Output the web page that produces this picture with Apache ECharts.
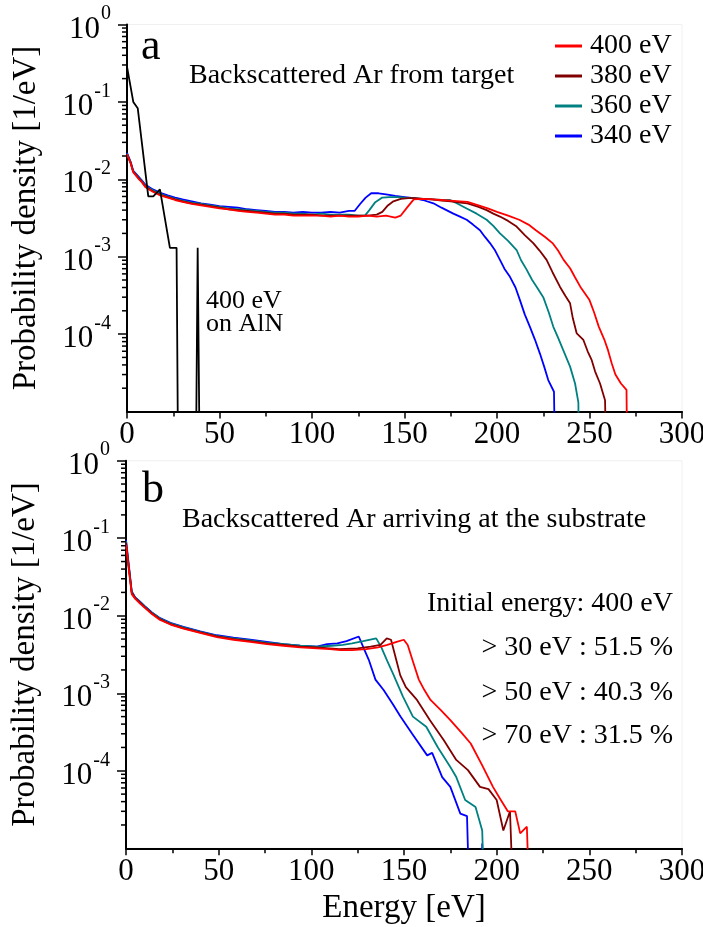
<!DOCTYPE html>
<html>
<head>
<meta charset="utf-8">
<script src="https://cdn.jsdelivr.net/npm/echarts@6/dist/echarts.min.js"></script>
<style>
  html, body { margin: 0; padding: 0; background: #fff; }
  #chart { width: 703px; height: 927px; }
</style>
</head>
<body>
<div id="chart"></div>
<script>
// Energy spectra of backscattered Ar: [energy (eV), probability density (1/eV)]
const seriesNames = ['400 eV', '380 eV', '360 eV', '340 eV'];
const seriesColors = ['#ff0000', '#800000', '#008080', '#0000ff'];

// Panel a: backscattered Ar leaving the target
const targetRed = [[0,0.021],[2,0.016],[3.3,0.0124],[6,0.0103],[8,0.0092],[10,0.0079],[14,0.0069],[18,0.0062],[22,0.0058],[26,0.0054],[30,0.0051],[35,0.0048],[40,0.0046],[45,0.0044],[50,0.0042],[55,0.0041],[60,0.0039],[65,0.0038],[70,0.0037],[75,0.0036],[80,0.0035],[85,0.0035],[90,0.0034],[95,0.0034],[100,0.0034],[105,0.0034],[110,0.0033],[115,0.0034],[120,0.0033],[125,0.0033],[130,0.0034],[135,0.0033],[140,0.0034],[145,0.0032],[148,0.0034],[152,0.0045],[155,0.0055],[160,0.0056],[165,0.0055],[170,0.0054],[175,0.0053],[180,0.0052],[184,0.0051],[190,0.0046],[195,0.0042],[200,0.0038],[206,0.0034],[212,0.0030],[217,0.0026],[221,0.0022],[226,0.0018],[230,0.0015],[233,0.0012],[236,0.00091],[239.5,0.00071],[242,0.00055],[245,0.00041],[250,0.000275],[252.5,0.00019],[255,0.000125],[258,0.000085],[260,0.000062],[262,0.000042],[264,0.00003],[267,0.000023],[270,0.000019],[271,0.0000001]];
const targetMaroon = [[0,0.021],[2,0.0162],[3.3,0.0126],[6,0.0105],[8,0.0093],[10,0.008],[14,0.007],[18,0.0063],[22,0.0059],[26,0.0055],[30,0.0052],[35,0.0049],[40,0.0047],[45,0.0045],[50,0.0043],[55,0.0041],[60,0.004],[65,0.0039],[70,0.0038],[75,0.0037],[80,0.0036],[85,0.0036],[90,0.0035],[95,0.0035],[100,0.0035],[105,0.0034],[110,0.0034],[115,0.0034],[120,0.0034],[125,0.0034],[130,0.0034],[135,0.0035],[138,0.0038],[141,0.0046],[144,0.0052],[148,0.0056],[152,0.0057],[156,0.0057],[160,0.0056],[165,0.0055],[170,0.0053],[175,0.0052],[180,0.005],[184,0.0049],[190,0.0044],[194.4,0.004],[198,0.0036],[201.6,0.0033],[206,0.0029],[210.6,0.00245],[215,0.0019],[219.6,0.0015],[223,0.0012],[226.8,0.00091],[230,0.00063],[234,0.00041],[237,0.00031],[239.5,0.00025],[241,0.00016],[243.1,0.000102],[246.7,0.000084],[249,0.00006],[251.2,0.000046],[253,0.000033],[255.7,0.000023],[258.4,0.000014],[260.2,0.0000001]];
const targetTeal = [[0,0.0215],[2,0.0164],[3.3,0.0128],[6,0.0107],[8,0.0095],[10,0.0082],[14,0.0072],[18,0.0065],[22,0.006],[26,0.0056],[30,0.0053],[35,0.005],[40,0.0048],[45,0.0046],[50,0.0044],[55,0.0042],[60,0.0041],[65,0.004],[70,0.0039],[75,0.0038],[80,0.0037],[85,0.0037],[90,0.0036],[95,0.0036],[100,0.0035],[105,0.0036],[110,0.0035],[115,0.0035],[120,0.0035],[125,0.0034],[128.6,0.0034],[131,0.004],[134,0.005],[138,0.0058],[142,0.0059],[146,0.0059],[150,0.0058],[155,0.0057],[160,0.0056],[165,0.0055],[170,0.0054],[174.6,0.0054],[179,0.0048],[183.6,0.0042],[189,0.0036],[194.4,0.003],[198,0.0025],[201.6,0.002],[206,0.0016],[210.6,0.00122],[213,0.0009],[216,0.00068],[219,0.0005],[221.4,0.00041],[225,0.0003],[228,0.00019],[230.4,0.000125],[233,0.00009],[235.8,0.000062],[239.5,0.000038],[242.2,0.000023],[244,0.000013],[244.3,0.0000001]];
const targetBlue = [[0,0.022],[2,0.0167],[3.3,0.013],[6,0.011],[8,0.0097],[10,0.0085],[14,0.0074],[18,0.0067],[22,0.0062],[26,0.0058],[30,0.0055],[35,0.0052],[40,0.0049],[45,0.0047],[50,0.0045],[55,0.0044],[60,0.0043],[65,0.0041],[70,0.004],[75,0.0039],[80,0.0038],[85,0.0038],[90,0.0037],[95,0.0038],[100,0.0037],[105,0.0037],[110,0.0038],[115,0.0037],[120,0.0039],[123,0.0039],[126,0.0048],[129,0.0058],[132,0.0066],[136,0.0066],[140,0.0064],[145,0.0061],[150,0.0059],[155,0.0057],[160,0.0054],[165.6,0.0049],[170,0.0043],[176.4,0.0036],[180,0.0033],[183.6,0.003],[187,0.0026],[190.8,0.0022],[193.5,0.0018],[196.2,0.0015],[199,0.0012],[201.6,0.00091],[204,0.0007],[207,0.00055],[210,0.0004],[212.4,0.000275],[215,0.00018],[217.8,0.000124],[220.5,0.000085],[223.2,0.000056],[225.5,0.000038],[227.7,0.0000255],[230.8,0.000018],[232.3,0.0000001]];
// 400 eV Ar on AlN
const targetAlN = [[0,0.285],[3.4,0.1],[5.8,0.083],[11.5,0.006],[14.2,0.006],[17.8,0.0074],[23.2,0.0013],[26.8,0.0013],[28,0.0000001],[36.8,0.0000001],[38.2,0.0013],[39.8,0.0000001]];

// Panel b: backscattered Ar arriving at the substrate
const substrateRed = [[0,0.082],[1.5,0.04],[3.1,0.019],[5,0.0165],[7.6,0.0143],[10,0.0127],[14,0.0105],[18.4,0.0088],[24,0.0077],[31,0.0068],[40,0.006],[49,0.0053],[58,0.0049],[67,0.0046],[76,0.0043],[85,0.0041],[94,0.0039],[103,0.0038],[110,0.0037],[115.7,0.0036],[122,0.0036],[129.6,0.0037],[136,0.0039],[141,0.0042],[146,0.0046],[149.9,0.0049],[152,0.0042],[155,0.0025],[158,0.0015],[161,0.0011],[164.3,0.00082],[170,0.0006],[175,0.00045],[181,0.00031],[186,0.000225],[192,0.00012],[198,0.000062],[202,0.000043],[206,0.00003],[210,0.00003],[212.7,0.0000156],[216.3,0.000019],[219.5,0.0000001]];
const substrateMaroon = [[0,0.088],[1.5,0.042],[3.1,0.0198],[5,0.0168],[7.6,0.0147],[10,0.013],[14,0.0107],[18.4,0.009],[24,0.0078],[31,0.0069],[40,0.0061],[49,0.0054],[58,0.005],[67,0.0047],[76,0.0044],[85,0.0042],[94,0.004],[103,0.0039],[110,0.0038],[115,0.0037],[125,0.0038],[132,0.004],[137.3,0.0042],[140.7,0.0051],[143,0.0049],[145.8,0.0027],[148,0.0017],[151,0.0012],[157,0.00082],[164,0.00045],[171.4,0.00025],[178.2,0.000138],[184.5,0.000102],[191,0.000062],[195.6,0.000058],[200,0.000042],[203.6,0.000017],[207.2,0.00003],[210.9,0.0000001]];
const substrateTeal = [[0,0.092],[1.5,0.044],[3.1,0.0202],[5,0.017],[7.6,0.015],[10,0.0132],[14,0.0109],[18.4,0.0092],[24,0.008],[31,0.0071],[40,0.0062],[49,0.0055],[58,0.0051],[67,0.0048],[76,0.0045],[85,0.0043],[94,0.0041],[103,0.004],[111,0.0041],[117,0.0042],[122,0.0044],[128,0.0047],[135,0.0051],[137.6,0.004],[141,0.0026],[144,0.0018],[149.5,0.0009],[154.8,0.0005],[162,0.00037],[168.3,0.0002],[175,0.000112],[178.2,0.000083],[183,0.000042],[188.6,0.000034],[192.2,0.000017],[195,0.0000001]];
const substrateBlue = [[0,0.095],[1.5,0.045],[3.1,0.0205],[5,0.0172],[7.6,0.0152],[10,0.0134],[14,0.011],[18.4,0.0093],[24,0.0081],[31,0.0072],[40,0.0063],[49,0.0056],[58,0.0052],[67,0.0049],[76,0.0046],[85,0.0043],[94,0.0041],[103,0.004],[108.5,0.0043],[114,0.0044],[119,0.0047],[125.6,0.0054],[128.3,0.0038],[131,0.0027],[134.6,0.0015],[139,0.0011],[144,0.00072],[148.1,0.0005],[154.4,0.0003],[162.5,0.000158],[165.2,0.00017],[170.6,0.000083],[175,0.000062],[180.4,0.000028],[184,0.000026],[186.8,0.0000001],[191.5,0.0000001],[192.2,0.0000115],[192.9,0.0000001]];

// Axis ticks and text
const energyTicks = [0, 50, 100, 150, 200, 250, 300];
const minorDensityTicks = [];
for (let k = -5; k < 0; k++) {
  for (let m = 2; m <= 9; m++) minorDensityTicks.push(m * Math.pow(10, k));
}
const statsLines = ['Initial energy: 400 eV', '> 30 eV : 51.5 %', '> 50 eV : 40.3 %', '> 70 eV : 31.5 %'];

const FONT = '"Liberation Serif", "Times New Roman", serif';
const chart = echarts.init(document.getElementById('chart'));

const gridBoxes = [
  { left: 127, top: 24.5, width: 555, height: 387 },
  { left: 126, top: 460.7, width: 556, height: 387.6 }
];

function xAxisFor(i, withName) {
  return {
    type: 'value', gridIndex: i, min: energyTicks[0], max: energyTicks[energyTicks.length - 1], interval: 50,
    axisLine: { show: true, onZero: false, lineStyle: { color: '#000', width: 2 } },
    axisTick: { show: true, length: 7, lineStyle: { color: '#000', width: 1.5 } },
    minorTick: { show: true, splitNumber: 2, length: 5, lineStyle: { color: '#000', width: 1.5 } },
    splitLine: { show: false },
    axisLabel: { color: '#000', fontFamily: FONT, fontSize: 31, margin: 8 },
    name: withName ? 'Energy [eV]' : '',
    nameLocation: 'middle', nameGap: 44,
    nameTextStyle: { color: '#000', fontFamily: FONT, fontSize: 33 }
  };
}

function yAxisFor(i) {
  return {
    type: 'log', logBase: 10, gridIndex: i, min: 1e-5, max: 1,
    axisLine: { show: true, onZero: false, lineStyle: { color: '#000', width: 2 } },
    axisTick: { show: true, length: 9, lineStyle: { color: '#000', width: 1.5 } },
    splitLine: { show: false },
    axisLabel: {
      showMinLabel: false, margin: 16,
      formatter: v => '{b|10}{s|' + Math.round(Math.log10(v)) + '}',
      rich: {
        b: { color: '#000', fontFamily: FONT, fontSize: 31, padding: [10, 0, 0, 0] },
        s: { color: '#000', fontFamily: FONT, fontSize: 20, verticalAlign: 'top', padding: [0, 0, 0, 1] }
      }
    },
    name: 'Probability density [1/eV]',
    nameLocation: 'middle', nameGap: 84, nameRotate: 90,
    nameTextStyle: { color: '#000', fontFamily: FONT, fontSize: 33 }
  };
}

function curve(name, color, data, idx) {
  return {
    name: name, type: 'line', xAxisIndex: idx, yAxisIndex: idx, data: data,
    showSymbol: false, symbol: 'none', clip: true, animation: false,
    lineStyle: { color: color, width: 1.8 }, itemStyle: { color: color }
  };
}

function minorTicks(idx) {
  return {
    type: 'custom', xAxisIndex: idx, yAxisIndex: idx, silent: true, clip: false, z: 5,
    data: minorDensityTicks.map(v => [0, v]),
    renderItem: function (params, api) {
      const p = api.coord([api.value(0), api.value(1)]);
      return {
        type: 'line',
        shape: { x1: p[0] - 5, y1: p[1], x2: p[0], y2: p[1] },
        style: { stroke: '#000', lineWidth: 1.5 }
      };
    }
  };
}

const panelA = [targetRed, targetMaroon, targetTeal, targetBlue];
const panelB = [substrateRed, substrateMaroon, substrateTeal, substrateBlue];
const series = [];
// draw blue first so red ends up on top
for (let k = 3; k >= 0; k--) series.push(curve(seriesNames[k], seriesColors[k], panelA[k], 0));
series.push({
  name: 'AlN', type: 'line', xAxisIndex: 0, yAxisIndex: 0, data: targetAlN,
  showSymbol: false, symbol: 'none', clip: true, animation: false,
  lineStyle: { color: '#000', width: 1.8 }
});
for (let k = 3; k >= 0; k--) series.push(curve(seriesNames[k], seriesColors[k], panelB[k], 1));
series.push(minorTicks(0), minorTicks(1));

function label(text, x, y, size, align) {
  return {
    type: 'text', x: x, y: y, silent: true,
    style: { text: text, fontFamily: FONT, fontSize: size, fill: '#000', align: align || 'left', verticalAlign: 'middle' }
  };
}

const graphics = [
  label('a', 141, 47, 44),
  label('Backscattered Ar from target', 189, 76, 28),
  label('400 eV', 206, 301, 26),
  label('on AlN', 206, 324, 26),
  label('b', 142, 490, 44),
  label('Backscattered Ar arriving at the substrate', 182, 520, 28)
];
const statsY = [603.5, 647.5, 692.5, 735.5];
statsLines.forEach((t, i) => graphics.push(label(t, 673, statsY[i], 28, 'right')));

chart.setOption({
  animation: false,
  backgroundColor: '#fff',
  grid: gridBoxes.map(g => Object.assign({
    show: true, borderColor: '#f0f0f0', borderWidth: 1, backgroundColor: 'transparent',
    containLabel: false, outerBoundsMode: 'none'
  }, g)),
  xAxis: [xAxisFor(0, false), xAxisFor(1, true)],
  yAxis: [yAxisFor(0), yAxisFor(1)],
  legend: {
    data: seriesNames, orient: 'vertical', left: 550, top: 27,
    icon: 'rect', itemWidth: 27, itemHeight: 3, itemGap: 2,
    textStyle: { color: '#000', fontFamily: FONT, fontSize: 28, lineHeight: 28, padding: [0, 0, 0, 3] }
  },
  graphic: graphics,
  series: series
});
</script>
</body>
</html>
